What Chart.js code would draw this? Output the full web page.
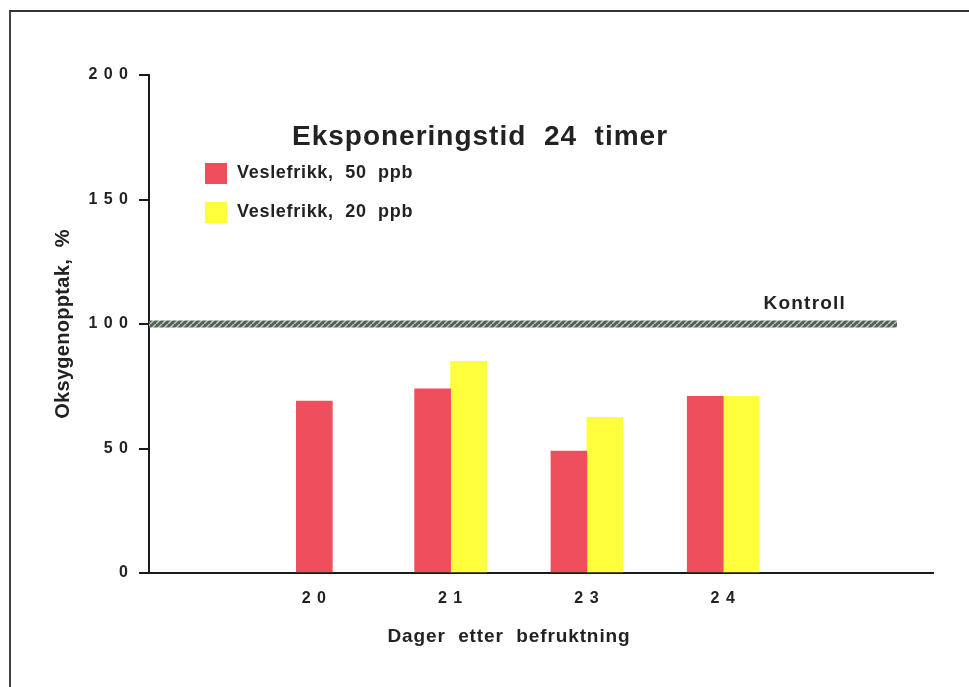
<!DOCTYPE html>
<html lang="no">
<head>
<meta charset="UTF-8">
<title>Eksponeringstid 24 timer</title>
<script src="https://cdn.jsdelivr.net/npm/chart.js@4.4.1/dist/chart.umd.min.js"></script>
<style>
  html, body { margin: 0; padding: 0; background: #fff; }
  #wrap { position: relative; width: 969px; height: 687px; }
  #frame { position: absolute; left: 9px; top: 10px; right: 0; bottom: 0;
           border-top: 2px solid #333; border-left: 2px solid #444; }
  canvas { position: absolute; left: 0; top: 0; }
</style>
</head>
<body>
<div id="wrap">
  <div id="frame"></div>
  <canvas id="myChart" width="969" height="687"></canvas>
</div>
<script>
    // data
    var days = ['20', '21', '23', '24'];
    var vesle50 = [69, 74, 49, 71];
    var vesle20 = [null, 85, 62.5, 71];
    var yTicks = [0, 50, 100, 150, 200];
    var kontroll = 100;

    var seriesLabels = ['Veslefrikk,  50  ppb', 'Veslefrikk,  20  ppb'];
    var seriesColors = ['#ef4f5c', '#ffff3c'];

    var font = 'Liberation Sans, Arial, sans-serif';
    var ink = '#222';

    function spaced(s) {
        return String(s).split('').join(' ');
    }

    function toPoints(values) {
        return values.map(function (v, i) { return {x: i + 1, y: v}; });
    }

    function hatchPattern(ctx) {
        var c = document.createElement('canvas');
        c.width = 6; c.height = 6;
        var p = c.getContext('2d');
        p.fillStyle = '#59605a';
        p.fillRect(0, 0, 6, 6);
        p.strokeStyle = '#b4d2ba';
        p.lineWidth = 1.5;
        p.beginPath();
        p.moveTo(0, 6); p.lineTo(6, 0);
        p.stroke();
        return ctx.createPattern(c, 'repeat');
    }

    function text(ctx, str, x, y, size, spacing) {
        ctx.font = 'bold ' + size + 'px ' + font;
        ctx.letterSpacing = spacing + 'px';
        ctx.fillText(str, x, y);
    }

    // wider letters like the original lettering
    var spacing = {
        id: 'spacing',
        beforeDraw: function (chart) { chart.ctx.letterSpacing = '1px'; }
    };

    // title, legend, axis titles and the Kontroll band
    var extras = {
        id: 'extras',
        afterDatasetsDraw: function (chart) {
            var ctx = chart.ctx;
            var area = chart.chartArea;
            var y = chart.scales.y;
            ctx.save();

            // kontroll band
            var yk = y.getPixelForValue(kontroll);
            ctx.fillStyle = hatchPattern(ctx);
            ctx.fillRect(area.left, yk - 3.5, area.right - area.left - 36, 7);
            ctx.fillStyle = ink;
            ctx.textAlign = 'right';
            ctx.textBaseline = 'alphabetic';
            text(ctx, 'Kontroll', area.right - 87, yk - 15, 19, 1.2);

            // title
            ctx.textAlign = 'center';
            ctx.textBaseline = 'middle';
            text(ctx, 'Eksponeringstid  24  timer', area.left + 331, area.top + 62, 28, 1);

            // legend
            ctx.textAlign = 'left';
            for (var i = 0; i < seriesLabels.length; i++) {
                var ly = area.top + 98 + i * 39;
                ctx.fillStyle = seriesColors[i];
                ctx.fillRect(area.left + 56, ly - 10, 22, 21);
                ctx.fillStyle = ink;
                text(ctx, seriesLabels[i], area.left + 88, ly, 18, 0.7);
            }

            // axis titles
            ctx.textAlign = 'center';
            text(ctx, 'Dager  etter  befruktning', area.left + 360, area.bottom + 64, 19, 0.9);
            ctx.translate(63, (area.top + area.bottom) / 2);
            ctx.rotate(-Math.PI / 2);
            text(ctx, 'Oksygenopptak,  %', 0, 0, 20, 0.3);
            ctx.restore();
        }
    };

    var ctx = document.getElementById('myChart');
    var chart = new Chart(ctx, {
        type: 'bar',
        data: {
            datasets: [
                {label: seriesLabels[0], data: toPoints(vesle50), backgroundColor: seriesColors[0], barThickness: 36, skipNull: true},
                {label: seriesLabels[1], data: toPoints(vesle20), backgroundColor: seriesColors[1], barThickness: 36, skipNull: true}
            ]
        },
        options: {
            responsive: false,
            animation: false,
            events: [],
            layout: {padding: {left: 40, right: 36, top: 75, bottom: 39}},
            plugins: {legend: {display: false}, title: {display: false}, tooltip: {enabled: false}},
            scales: {
                x: {
                    type: 'linear',
                    offset: false,
                    min: -0.213,
                    max: 5.539,
                    afterBuildTicks: function (scale) {
                        scale.ticks = days.map(function (d, i) { return {value: i + 1}; });
                    },
                    afterFit: function (scale) { scale.height = 75; },
                    grid: {display: false, drawTicks: false},
                    border: {display: true, color: '#1a1a1a', width: 2},
                    ticks: {
                        padding: 16,
                        color: ink,
                        maxRotation: 0,
                        font: {family: font, size: 16, weight: 'bold'},
                        callback: function (v) { return spaced(days[v - 1]); }
                    }
                },
                y: {
                    min: 0,
                    max: 200,
                    afterBuildTicks: function (scale) {
                        scale.ticks = yTicks.map(function (v) { return {value: v}; });
                    },
                    afterFit: function (scale) { scale.width = 109; },
                    grid: {display: true, drawOnChartArea: false, drawTicks: true, tickLength: 10, color: '#1a1a1a', lineWidth: 2},
                    border: {display: true, color: '#1a1a1a', width: 2},
                    ticks: {
                        padding: 10,
                        color: ink,
                        font: {family: font, size: 16, weight: 'bold'},
                        callback: function (v) { return spaced(v); }
                    }
                }
            }
        },
        plugins: [spacing, extras]
    });
</script>
</body>
</html>
